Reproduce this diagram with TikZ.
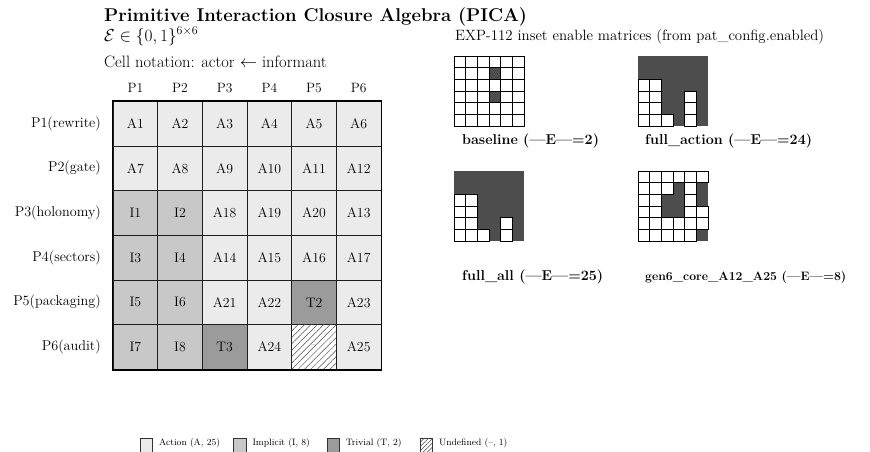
\documentclass[tikz,border=0pt]{standalone}
\usetikzlibrary{patterns.meta}
\definecolor{actfill}{RGB}{235,235,235}
\definecolor{impfill}{RGB}{200,200,200}
\definecolor{trvfill}{RGB}{155,155,155}
\definecolor{insetdark}{RGB}{77,77,77}
\definecolor{gridline}{RGB}{30,30,30}
\tikzset{
  cellbase/.style={draw=gridline, line width=0.9pt, minimum width=44.67pt, minimum height=44.67pt, inner sep=0pt, font=\fontsize{13.8}{16}\selectfont},
  cella/.style={cellbase, fill=actfill},
  celli/.style={cellbase, fill=impfill},
  cellt/.style={cellbase, fill=trvfill},
  cellu/.style={cellbase, fill=white, text=black!55, postaction={pattern={Lines[angle=45,distance=4.5pt,line width=0.5pt]}, pattern color=black!70}},
  colhead/.style={anchor=base, inner sep=0pt, font=\fontsize{13.5}{16}\selectfont},
  rowlab/.style={anchor=east, inner sep=0pt, font=\fontsize{14.2}{16}\selectfont},
  headtext/.style={anchor=base west, inner sep=0pt, font=\fontsize{16.5}{19}\selectfont},
  insetlab/.style={anchor=base west, inner sep=0pt, font=\fontsize{14.3}{16}\selectfont\bfseries},
  legbox/.style={draw=black!80, line width=0.6pt, anchor=north west, minimum width=12.3pt, minimum height=16pt, inner sep=0pt},
  legtext/.style={anchor=base west, inner sep=0pt, font=\fontsize{9.3}{11}\selectfont},
}
\newcommand\insetmatrix[3]{%
  \foreach \rw [count=\r] in {#3} {
    \foreach \v [count=\c] in \rw {
      \ifnum\v=1
        \fill[insetdark] ({#1+11.667*(\c-1)},{#2+11.667*(\r-1)}) rectangle ++(11.667,11.667);
      \fi
    }
  }
  \foreach \rw [count=\r] in {#3} {
    \foreach \v [count=\c] in \rw {
      \ifnum\v=0
        \draw[fill=white, line width=0.7pt] ({#1+11.667*(\c-1)},{#2+11.667*(\r-1)}) rectangle ++(11.667,11.667);
      \fi
    }
  }
}
\begin{document}
\begin{tikzpicture}[x=1pt,y=-1pt]
\useasboundingbox (0,0) rectangle (870,451);
% titles
\node[anchor=base west, inner sep=0pt, font=\fontsize{18.5}{22}\selectfont\bfseries] (title) at (104,21.5) {Primitive Interaction Closure Algebra (PICA)};
\node[headtext] (eset) at (104,41) {$\mathcal{E}\in\{0,1\}^{6\times 6}$};
\node[headtext] (notation) at (104,67.5) {Cell notation: actor $\leftarrow$ informant};
% column headers
\foreach \c in {1,...,6} {
  \node[colhead] (col-\c) at ({113+44.67*(\c-0.5)},92) {P\c};
}
% row labels
\foreach \nm [count=\r] in {rewrite,gate,holonomy,sectors,packaging,audit} {
  \node[rowlab] (row-\r) at (101,{101.33+44.67*(\r-0.5)}) {P\r(\nm)};
}
% cells
\foreach \rowlist [count=\r] in {
  {A1/a,A2/a,A3/a,A4/a,A5/a,A6/a},
  {A7/a,A8/a,A9/a,A10/a,A11/a,A12/a},
  {I1/i,I2/i,A18/a,A19/a,A20/a,A13/a},
  {I3/i,I4/i,A14/a,A15/a,A16/a,A17/a},
  {I5/i,I6/i,A21/a,A22/a,T2/t,A23/a},
  {I7/i,I8/i,T3/t,A24/a,--/u,A25/a}} {
  \foreach \lab/\typ [count=\c] in \rowlist {
    \node[cell\typ] (cell-\r-\c) at ({113+44.67*(\c-0.5)},{101.33+44.67*(\r-0.5)}) {\lab};
  }
}
\draw[line width=1.6pt, black] (cell-1-1.north west) rectangle (cell-6-6.south east);
% insets
\node[anchor=base west, inner sep=0pt, font=\fontsize{14.9}{17}\selectfont] (exptitle) at (455,40) {EXP-112 inset enable matrices (from pat\_config.enabled)};
\insetmatrix{454}{56}{{0,0,0,0,0,0},{0,0,0,1,0,0},{0,0,0,0,0,0},{0,0,0,1,0,0},{0,0,0,0,0,0},{0,0,0,0,0,0}}
\insetmatrix{638}{56}{{1,1,1,1,1,1},{1,1,1,1,1,1},{0,0,1,1,1,1},{0,0,1,1,0,1},{0,0,1,1,0,1},{0,0,0,1,0,1}}
\insetmatrix{454}{171}{{1,1,1,1,1,1},{1,1,1,1,1,1},{0,0,1,1,1,1},{0,0,1,1,1,1},{0,0,1,1,0,1},{0,0,0,1,0,1}}
\insetmatrix{638}{171}{{0,0,0,0,0,0},{0,0,0,1,0,1},{0,0,1,1,0,1},{0,0,1,1,0,0},{0,0,0,0,0,0},{0,0,0,0,0,1}}
\node[insetlab] (lab-baseline) at (462,144) {baseline (---E---=2)};
\node[insetlab] (lab-fullaction) at (645,144) {full\_action (---E---=24)};
\node[insetlab] (lab-fullall) at (462,280) {full\_all (---E---=25)};
\node[insetlab, font=\fontsize{12.2}{14}\selectfont\bfseries] (lab-gen6) at (645,280) {gen6\_core\_A12\_A25 (---E---=8)};
% legend
\node[legbox, fill=actfill] (leg-a) at (140,438) {};
\node[legtext] (legt-a) at (159,445) {Action (A, 25)};
\node[legbox, fill=impfill] (leg-i) at (233.3,438) {};
\node[legtext] (legt-i) at (252.3,445) {Implicit (I, 8)};
\node[legbox, fill=trvfill] (leg-t) at (326.6,438) {};
\node[legtext] (legt-t) at (345.6,445) {Trivial (T, 2)};
\node[legbox, fill=white, postaction={pattern={Lines[angle=45,distance=3pt,line width=0.5pt]}, pattern color=black!70}] (leg-u) at (420,438) {};
\node[legtext] (legt-u) at (439,445) {Undefined (--, 1)};
\end{tikzpicture}
\end{document}
